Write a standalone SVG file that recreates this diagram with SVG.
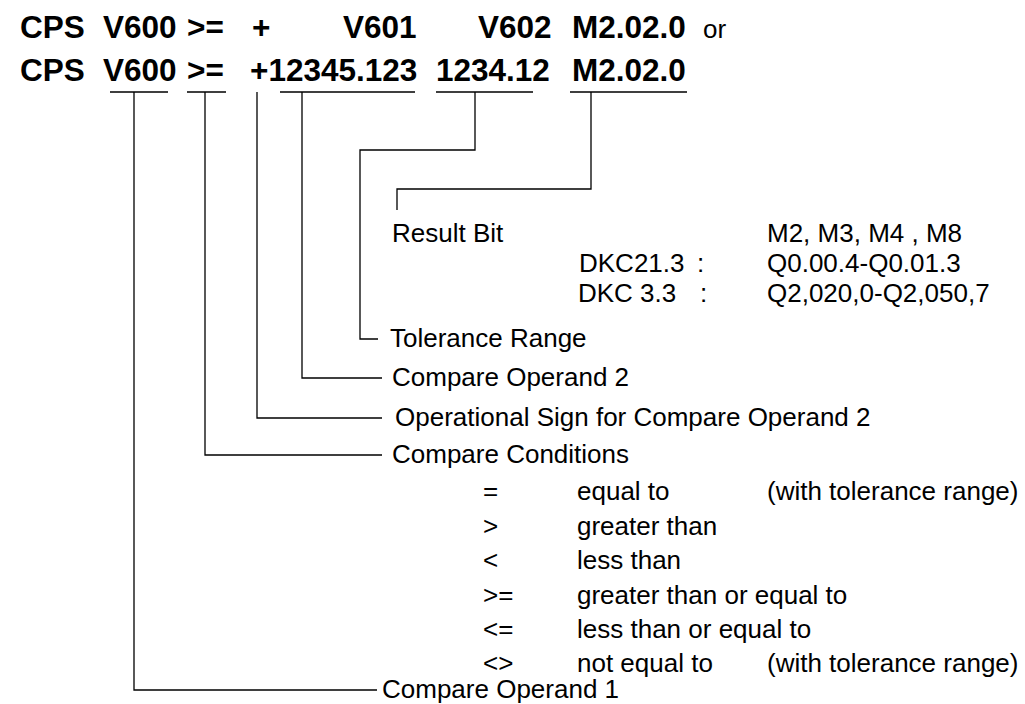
<svg xmlns="http://www.w3.org/2000/svg" width="1025" height="704" viewBox="0 0 1025 704">
<style>
.t{font-family:"Liberation Sans",Arial,sans-serif;font-weight:bold;font-size:31.5px;fill:#000}
.b{font-family:"Liberation Sans",Arial,sans-serif;font-size:26px;fill:#000}
.ln{stroke:#000;stroke-width:1.3;fill:none}
</style>
<rect width="1025" height="704" fill="#fff"/>
<g id="title">
<text class="t" x="20" y="38">CPS</text>
<text class="t" x="103" y="38">V600</text>
<text class="t" x="187" y="38">&gt;=</text>
<text class="t" x="252" y="38">+</text>
<text class="t" x="343" y="38">V601</text>
<text class="t" x="478" y="38">V602</text>
<text class="t" x="572" y="38">M2.02.0</text>
<text class="b" x="703" y="38">or</text>
<text class="t" x="20" y="81">CPS</text>
<text class="t" x="103" y="81">V600</text>
<text class="t" x="187" y="81">&gt;=</text>
<text class="t" x="250" y="81">+12345.123</text>
<text class="t" x="436" y="81">1234.12</text>
<text class="t" x="572" y="81">M2.02.0</text>
</g>
<g id="connectors" class="ln">
<path d="M110 92H168M187 92H226M280 92H415M436 92H533M570 92H687"/>
<path d="M134 92V690H377"/>
<path d="M205 92V455H382"/>
<path d="M257 92V418H382"/>
<path d="M302 92V378H382"/>
<path d="M475 92V150H360V339H378"/>
<path d="M591 92V189H397V210"/>
</g>
<g id="result-bit">
<text class="b" x="392" y="242">Result Bit</text>
<text class="b" x="767" y="242">M2, M3, M4 , M8</text>
<text class="b" x="579" y="272">DKC21.3</text>
<text class="b" x="697" y="272">:</text>
<text class="b" x="767" y="272">Q0.00.4-Q0.01.3</text>
<text class="b" x="578" y="302">DKC 3.3</text>
<text class="b" x="700" y="302">:</text>
<text class="b" x="767" y="302">Q2,020,0-Q2,050,7</text>
</g>
<g id="tolerance-range"><text class="b" x="390" y="347">Tolerance Range</text></g>
<g id="compare-operand-2"><text class="b" x="392" y="386">Compare Operand 2</text></g>
<g id="operational-sign"><text class="b" x="395" y="426">Operational Sign for Compare Operand 2</text></g>
<g id="compare-conditions">
<text class="b" x="392" y="463">Compare Conditions</text>
<text class="b" x="483" y="500">=</text><text class="b" x="577" y="500">equal to</text><text class="b" x="767" y="500">(with tolerance range)</text>
<text class="b" x="483" y="535">&gt;</text><text class="b" x="577" y="535">greater than</text>
<text class="b" x="483" y="569">&lt;</text><text class="b" x="577" y="569">less than</text>
<text class="b" x="483" y="604">&gt;=</text><text class="b" x="577" y="604">greater than or equal to</text>
<text class="b" x="483" y="638">&lt;=</text><text class="b" x="577" y="638">less than or equal to</text>
<text class="b" x="483" y="672">&lt;&gt;</text><text class="b" x="577" y="672">not equal to</text><text class="b" x="767" y="672">(with tolerance range)</text>
</g>
<g id="compare-operand-1"><text class="b" x="382" y="698">Compare Operand 1</text></g>
</svg>
